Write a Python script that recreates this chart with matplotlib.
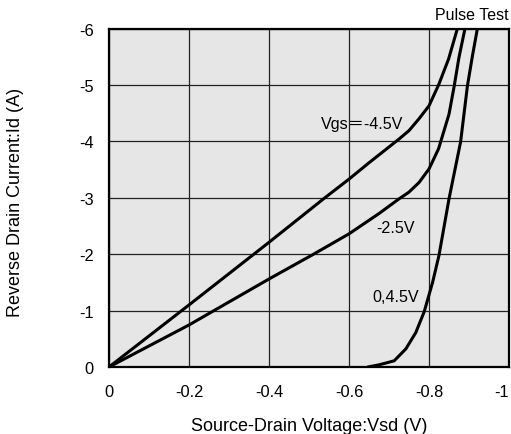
import matplotlib
matplotlib.use('Agg')
import matplotlib.pyplot as plt

plt.rcParams['font.family'] = ['Liberation Sans', 'Noto Sans CJK JP', 'DejaVu Sans']
plt.rcParams['axes.unicode_minus'] = False

# Vsd (V) / Id (A)
vsd_45 = [0.0, -0.2, -0.4, -0.538, -0.6, -0.65, -0.7, -0.725, -0.75, -0.775, -0.8, -0.824, -0.849, -0.871]
id_45 = [0.0, -1.10, -2.21, -2.99, -3.33, -3.62, -3.90, -4.04, -4.19, -4.40, -4.63, -5.00, -5.46, -6.0]

vsd_25 = [0.0, -0.2, -0.4, -0.509, -0.6, -0.675, -0.725, -0.75, -0.775, -0.8, -0.824, -0.85, -0.863, -0.875, -0.89]
id_25 = [0.0, -0.745, -1.56, -1.99, -2.36, -2.72, -2.98, -3.10, -3.27, -3.51, -3.87, -4.48, -4.98, -5.49, -6.0]

vsd_0 = [-0.647, -0.676, -0.713, -0.742, -0.767, -0.788, -0.809, -0.825, -0.850, -0.879, -0.896, -0.908, -0.921]
id_0 = [0.0, -0.04, -0.11, -0.32, -0.61, -0.98, -1.50, -1.98, -2.98, -3.99, -4.98, -5.49, -6.0]

x_ticks = [0, -0.2, -0.4, -0.6, -0.8, -1]
x_tick_labels = ['0', '-0.2', '-0.4', '-0.6', '-0.8', '-1']
y_ticks = [0, -1, -2, -3, -4, -5, -6]
y_tick_labels = ['0', '-1', '-2', '-3', '-4', '-5', '-6']

fig = plt.figure(figsize=(5.11, 4.35), dpi=100)
ax = fig.add_axes([109 / 511, 1 - 368 / 435, 400 / 511, 338.5 / 435])
ax.set_facecolor('#e6e6e6')

for v, i in [(vsd_45, id_45), (vsd_25, id_25), (vsd_0, id_0)]:
    ax.plot(v, i, color='black', lw=2.2, solid_capstyle='round', solid_joinstyle='round', zorder=3)

ax.set_xlim(0, -1)
ax.set_ylim(0, -6)
ax.set_xticks(x_ticks)
ax.set_xticklabels(x_tick_labels)
ax.set_yticks(y_ticks)
ax.set_yticklabels(y_tick_labels)
ax.tick_params(length=0, labelsize=11.8)
ax.tick_params(axis='x', pad=12)
ax.tick_params(axis='y', pad=11)
ax.get_xticklabels()[-1].set_ha('right')
ax.grid(True, color='#222222', lw=0.9)
ax.set_axisbelow(True)
for s in ax.spines.values():
    s.set_linewidth(1.6)

ax.text(-0.632, -4.31, 'Vgs\uff1d-4.5V', ha='center', va='center', fontsize=11.6)
ax.text(-0.716, -2.47, '-2.5V', ha='center', va='center', fontsize=11.6)
ax.text(-0.717, -1.245, '0,4.5V', ha='center', va='center', fontsize=11.6)

fig.text(509 / 511, 1 - 15 / 435, 'Pulse Test', ha='right', va='center', fontsize=11.5)
fig.text(309 / 511, 1 - 427 / 435, 'Source-Drain Voltage:Vsd (V)', ha='center', va='center', fontsize=13)
fig.text(16 / 511, 1 - 202 / 435, 'Reverse Drain Current:Id (A)', ha='center', va='center',
         rotation=90, fontsize=13)

fig.savefig('out.png', dpi=100)
plt.close()
